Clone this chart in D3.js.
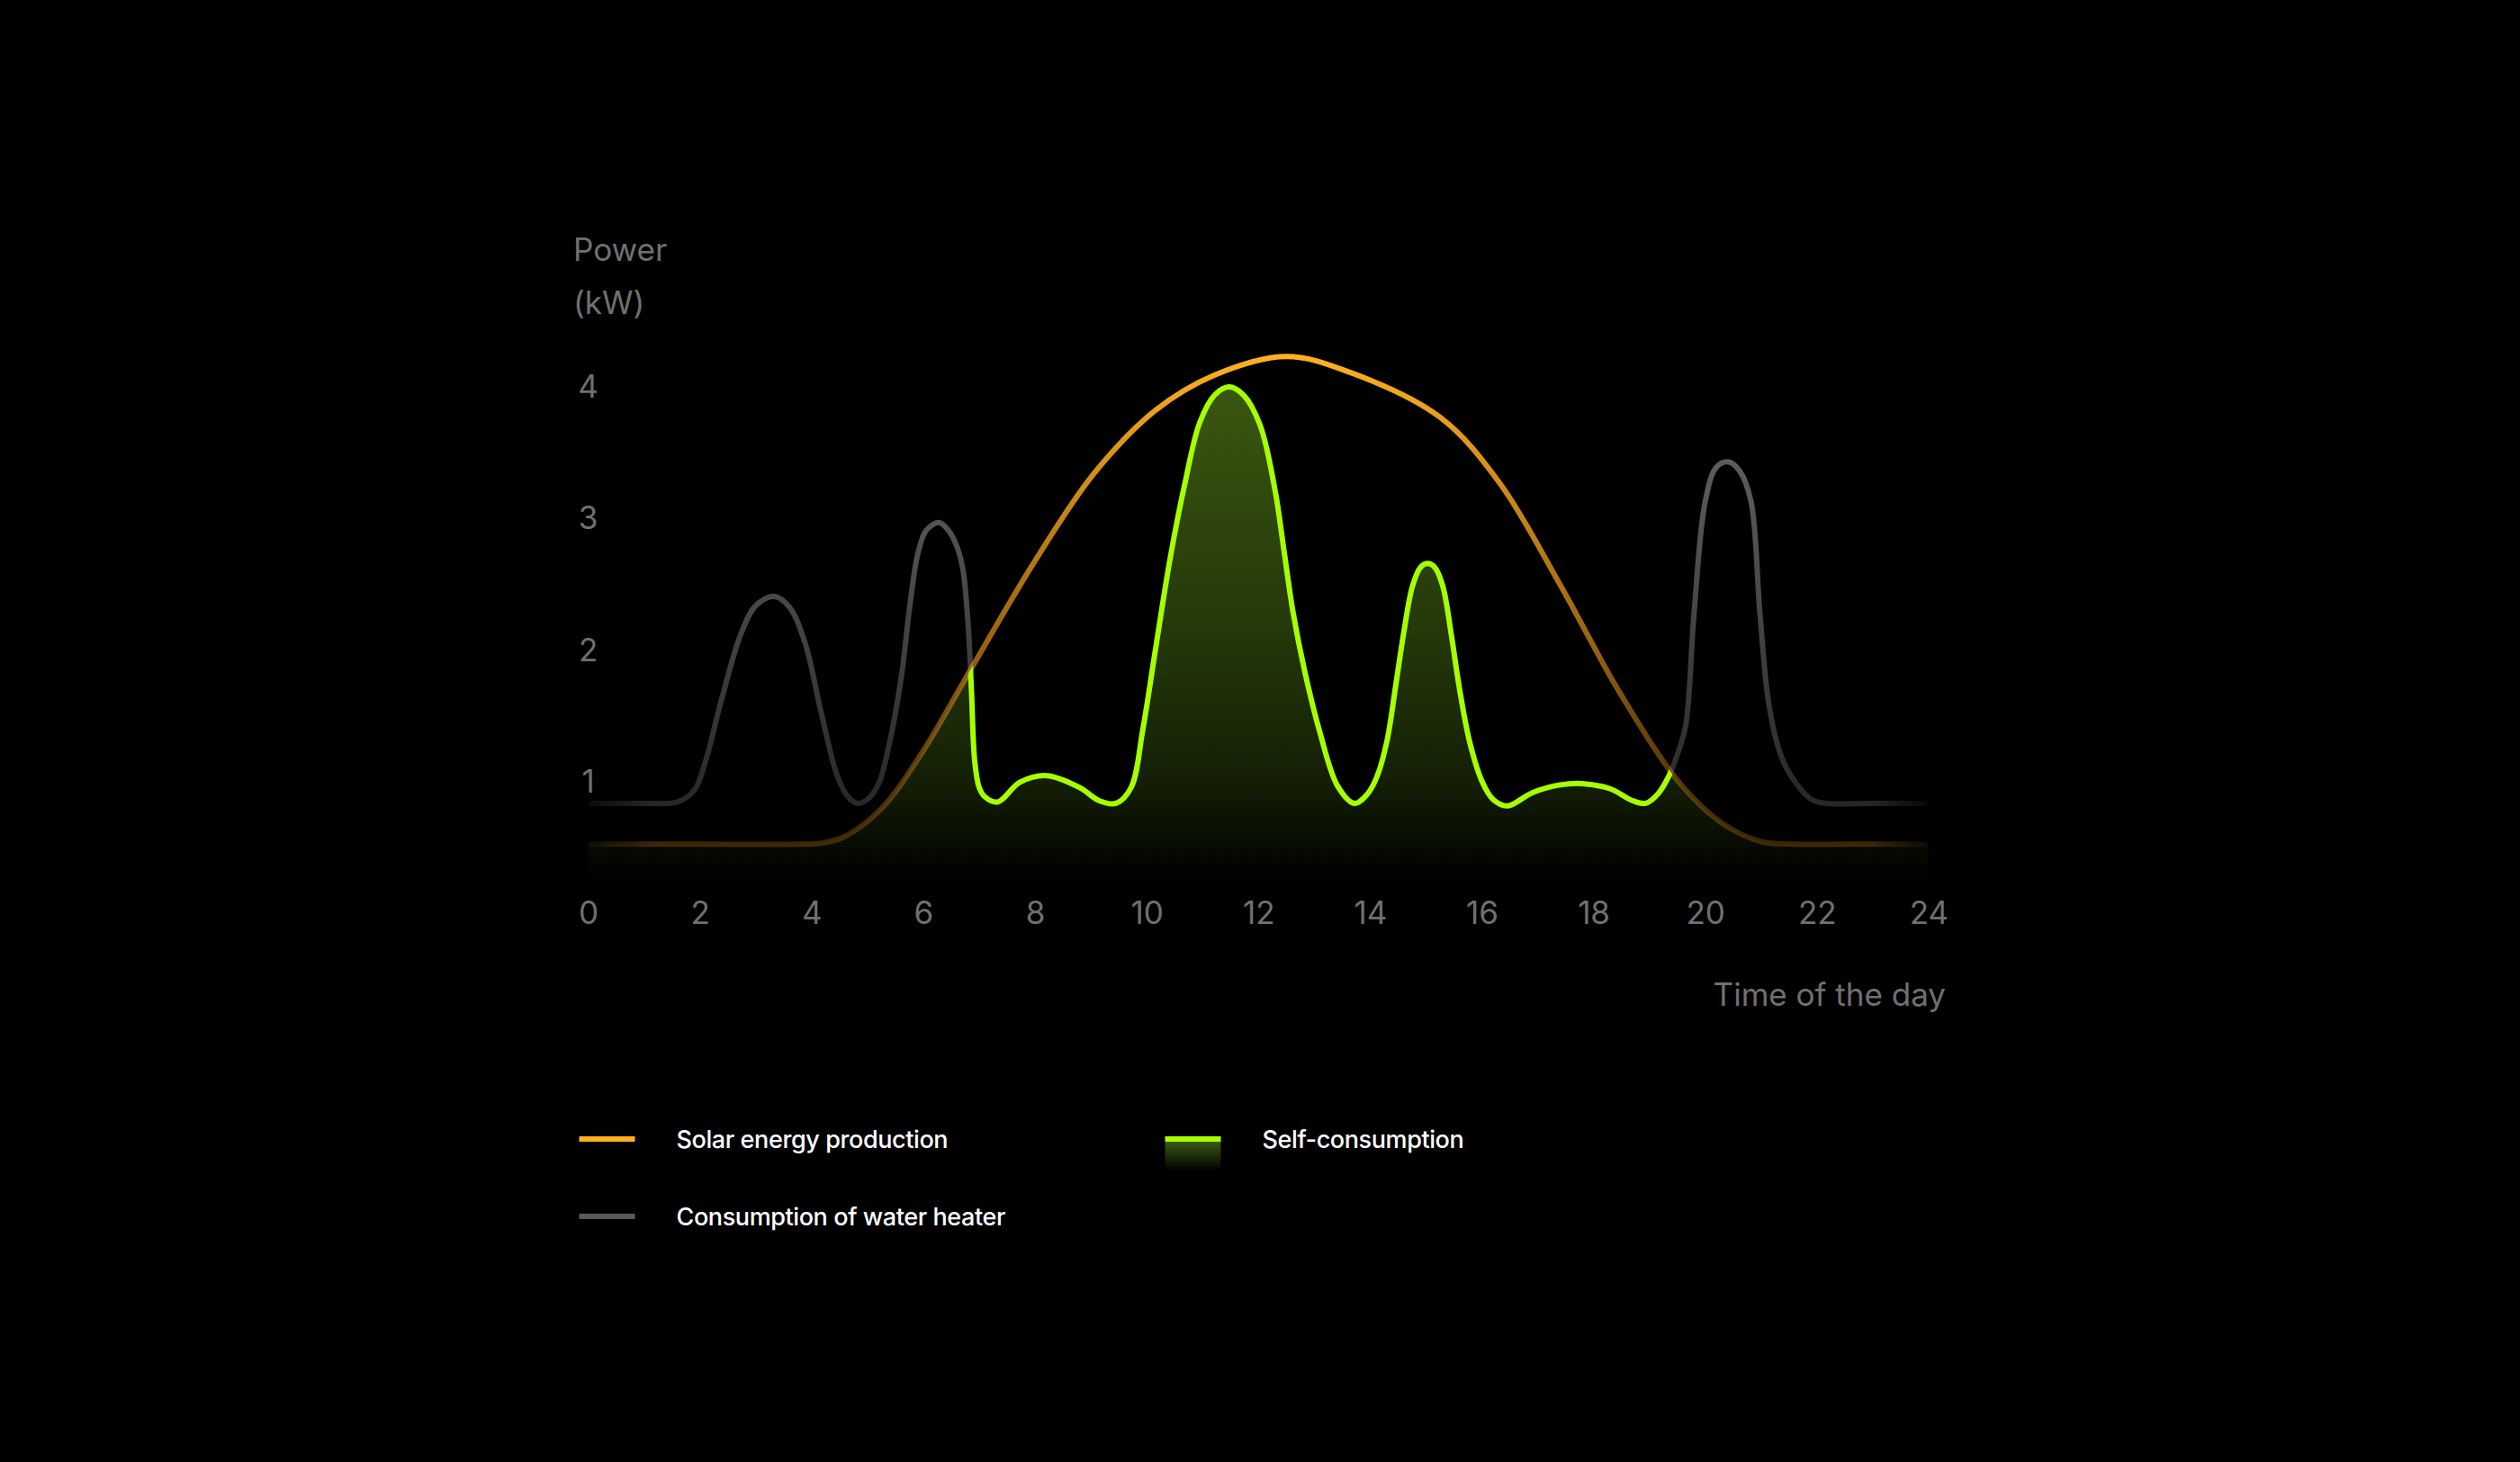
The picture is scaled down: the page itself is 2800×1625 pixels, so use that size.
<!doctype html>
<html>
  <head>
    <meta charset="utf-8">
    <title>Solar production and self-consumption</title>
    <script src="https://cdnjs.cloudflare.com/ajax/libs/d3/7.8.5/d3.min.js"></script>
    <style>
      body { margin: 0; background: #000; }
      text { font-family: Inter, 'Noto Sans', sans-serif; }
    </style>
  </head>
  <body>
    <div id="root"></div>
    <script>
      // hours of the day and kW
      const solarHours = [0, 2, 3.8, 4.2, 4.6, 5.25, 5.97, 6.84, 8.0, 9.07, 10.15, 11.22, 12.5, 13.64, 15.25, 16.32, 17.4, 18.47, 19.55, 20.3, 21.0, 21.6, 22.5, 24];
      const solarKW    = [0.52, 0.52, 0.52, 0.53, 0.58, 0.79, 1.21, 1.84, 2.67, 3.34, 3.81, 4.08, 4.22, 4.10, 3.76, 3.26, 2.49, 1.67, 0.98, 0.68, 0.54, 0.52, 0.52, 0.52];

      const heaterHours = [0, 1.0, 1.6, 1.9, 2.1, 2.37, 2.73, 3.0, 3.33, 3.6, 3.88, 4.17, 4.45, 4.65, 4.82, 5.0, 5.2, 5.4, 5.61, 5.75, 5.9, 6.05, 6.28, 6.45, 6.6, 6.71, 6.8, 6.86, 6.92, 7.0, 7.1, 7.33, 7.73, 8.21, 8.8, 9.15, 9.45, 9.72, 9.93, 10.15, 10.42, 10.69, 10.95, 11.22, 11.47, 11.73, 12.03, 12.3, 12.46, 12.62, 12.83, 13.1, 13.42, 13.72, 13.95, 14.12, 14.3, 14.45, 14.6, 14.76, 14.9, 15.03, 15.16, 15.3, 15.45, 15.6, 15.78, 16.0, 16.2, 16.46, 16.9, 17.4, 17.8, 18.3, 18.7, 18.93, 19.15, 19.34, 19.5, 19.65, 19.8, 20.0, 20.2, 20.42, 20.62, 20.82, 20.98, 21.14, 21.35, 21.55, 21.9, 22.16, 23, 24];
      const heaterKW    = [0.83, 0.83, 0.84, 0.93, 1.15, 1.59, 2.11, 2.33, 2.40, 2.32, 2.05, 1.52, 1.05, 0.88, 0.83, 0.86, 0.98, 1.3, 1.8, 2.3, 2.72, 2.9, 2.96, 2.9, 2.78, 2.6, 2.2, 1.7, 1.15, 0.95, 0.88, 0.84, 0.99, 1.04, 0.95, 0.85, 0.83, 0.95, 1.39, 1.98, 2.69, 3.27, 3.72, 3.93, 3.99, 3.93, 3.7, 3.2, 2.74, 2.28, 1.83, 1.37, 0.96, 0.83, 0.9, 1.03, 1.3, 1.7, 2.12, 2.48, 2.62, 2.65, 2.62, 2.48, 2.12, 1.7, 1.3, 1.0, 0.86, 0.81, 0.91, 0.97, 0.98, 0.94, 0.85, 0.83, 0.9, 1.03, 1.2, 1.42, 2.27, 3.12, 3.38, 3.42, 3.35, 3.12, 2.27, 1.58, 1.2, 1.03, 0.86, 0.83, 0.83, 0.83];

      const xTickValues = [0, 2, 4, 6, 8, 10, 12, 14, 16, 18, 20, 22, 24];
      const yTickValues = [1, 2, 3, 4];
      const legendItems = [
        {label: 'Solar energy production', kind: 'solar'},
        {label: 'Self-consumption', kind: 'self'},
        {label: 'Consumption of water heater', kind: 'heater'}
      ];

      const width = 2800, height = 1625;
      const axisColor = '#707070';

      let svg = d3.select('#root')
        .append('svg')
        .attr('width', width)
        .attr('height', height)
        .style('background', '#000');

      let x = d3.scaleLinear().domain([0, 24]).range([653.6, 2142.9]);
      let y = d3.scaleLinear().domain([0, 4]).range([1014.5, 428.5]);

      let solar = solarHours.map((h, i) => ({h: h, v: solarKW[i]}));
      let heater = heaterHours.map((h, i) => ({h: h, v: heaterKW[i]}));

      let curve = d3.curveCatmullRom.alpha(0.5);
      let line = d3.line().x(d => x(d.h)).y(d => y(d.v)).curve(curve);

      let defs = svg.append('defs');

      // region under / over the solar curve, used to split the heater line
      defs.append('clipPath').attr('id', 'underSolar')
        .append('path')
        .attr('d', d3.area().x(d => x(d.h)).y0(height).y1(d => y(d.v)).curve(curve)(solar));
      defs.append('clipPath').attr('id', 'overSolar')
        .append('path')
        .attr('d', d3.area().x(d => x(d.h)).y0(0).y1(d => y(d.v)).curve(curve)(solar));

      // vertical gradients
      function vGrad(id, v1, v2, stops) {
        let g = defs.append('linearGradient')
          .attr('id', id)
          .attr('gradientUnits', 'userSpaceOnUse')
          .attr('x1', 0).attr('x2', 0)
          .attr('y1', y(v1)).attr('y2', y(v2));
        stops.forEach(s => {
          g.append('stop')
            .attr('offset', s[0])
            .attr('stop-color', s[1])
            .attr('stop-opacity', s[2] === undefined ? 1 : s[2]);
        });
      }
      vGrad('fillGrad', 4.0, 0.25, [[0, '#3a5711'], [0.5, '#243809'], [0.8, '#141f06'], [1, '#000000']]);
      vGrad('orangeGrad', 4.25, 0.5, [[0, '#ffb21e', 1], [0.6, '#e8961a', 0.65], [1, '#c07818', 0.3]]);
      vGrad('grayGrad', 3.5, 0.8, [[0, '#5e5e5e'], [1, '#272727']]);

      // soft fade at both ends of the gray and orange lines
      let edge = defs.append('linearGradient')
        .attr('id', 'edgeGrad')
        .attr('gradientUnits', 'userSpaceOnUse')
        .attr('x1', x(0)).attr('x2', x(24.15))
        .attr('y1', 0).attr('y2', 0);
      [[0, 0.25], [0.05, 1], [0.95, 1], [1, 0]].forEach(s => {
        edge.append('stop').attr('offset', s[0]).attr('stop-color', '#fff').attr('stop-opacity', s[1]);
      });
      defs.append('mask').attr('id', 'edgeFade')
        .attr('maskUnits', 'userSpaceOnUse')
        .attr('x', 0).attr('y', 0).attr('width', width).attr('height', height)
        .append('rect')
        .attr('width', width).attr('height', height)
        .attr('fill', 'url(#edgeGrad)');

      // self-consumption fill: below both curves
      svg.append('path')
        .attr('d', d3.area().x(d => x(d.h)).y0(y(0.25)).y1(d => y(d.v)).curve(curve)(heater))
        .attr('fill', 'url(#fillGrad)')
        .attr('clip-path', 'url(#underSolar)');

      // water heater consumption above production
      svg.append('g').attr('mask', 'url(#edgeFade)')
        .append('path')
        .attr('d', line(heater))
        .attr('fill', 'none')
        .attr('stroke', 'url(#grayGrad)')
        .attr('stroke-width', 6)
        .attr('clip-path', 'url(#overSolar)');

      // solar production
      svg.append('g').attr('mask', 'url(#edgeFade)')
        .append('path')
        .attr('d', line(solar))
        .attr('fill', 'none')
        .attr('stroke', 'url(#orangeGrad)')
        .attr('stroke-width', 6);

      // self-consumption line
      svg.append('path')
        .attr('d', line(heater))
        .attr('fill', 'none')
        .attr('stroke', '#a6ff00')
        .attr('stroke-width', 6)
        .attr('clip-path', 'url(#underSolar)');

      // axes
      let xAxis = svg.append('g')
        .attr('transform', 'translate(0,' + y(0) + ')')
        .call(d3.axisBottom(x).tickValues(xTickValues).tickSize(0).tickPadding(0).tickFormat(d3.format('d')));
      xAxis.select('.domain').remove();
      xAxis.selectAll('text')
        .attr('dy', '0.36em')
        .attr('fill', axisColor)
        .attr('font-size', 35)
        .attr('font-family', 'Inter, sans-serif');

      let yAxis = svg.append('g')
        .attr('transform', 'translate(' + x(0) + ',0)')
        .call(d3.axisLeft(y).tickValues(yTickValues).tickSize(0).tickPadding(0).tickFormat(d3.format('d')));
      yAxis.select('.domain').remove();
      yAxis.selectAll('text')
        .attr('x', 0)
        .attr('dy', '0.36em')
        .attr('text-anchor', 'middle')
        .attr('fill', axisColor)
        .attr('font-size', 35)
        .attr('font-family', 'Inter, sans-serif');

      svg.append('text').text('Power')
        .attr('x', 637).attr('y', 290)
        .attr('fill', axisColor).attr('font-size', 35);
      svg.append('text').text('(kW)')
        .attr('x', 637).attr('y', 349)
        .attr('fill', axisColor).attr('font-size', 35);
      svg.append('text').text('Time of the day')
        .attr('x', 2162).attr('y', 1118)
        .attr('text-anchor', 'end')
        .attr('fill', axisColor).attr('font-size', 35);

      // legend
      let legendPos = {solar: [643.5, 1266], self: [1294.5, 1266], heater: [643.5, 1352]};
      let legendColor = {solar: '#ffb01e', self: '#a6ff00', heater: '#5a5a5a'};

      let lg = defs.append('linearGradient').attr('id', 'legendSelfGrad')
        .attr('x1', 0).attr('x2', 0).attr('y1', 0).attr('y2', 1);
      lg.append('stop').attr('offset', 0).attr('stop-color', '#3a5711');
      lg.append('stop').attr('offset', 1).attr('stop-color', '#000');

      let legend = svg.selectAll('.legend')
        .data(legendItems)
        .enter()
        .append('g')
        .attr('class', 'legend')
        .attr('transform', d => 'translate(' + legendPos[d.kind] + ')');

      legend.filter(d => d.kind === 'self')
        .append('rect')
        .attr('x', 0).attr('y', 3)
        .attr('width', 62).attr('height', 32)
        .attr('fill', 'url(#legendSelfGrad)');

      legend.append('rect')
        .attr('x', 0).attr('y', -3)
        .attr('width', 62).attr('height', 6)
        .attr('fill', d => legendColor[d.kind]);

      legend.append('text')
        .text(d => d.label)
        .attr('x', 108)
        .attr('y', 10)
        .attr('fill', '#fff')
        .attr('font-size', 27)
        .attr('font-weight', 500)
        .attr('letter-spacing', -0.4);
    </script>
  </body>
</html>
